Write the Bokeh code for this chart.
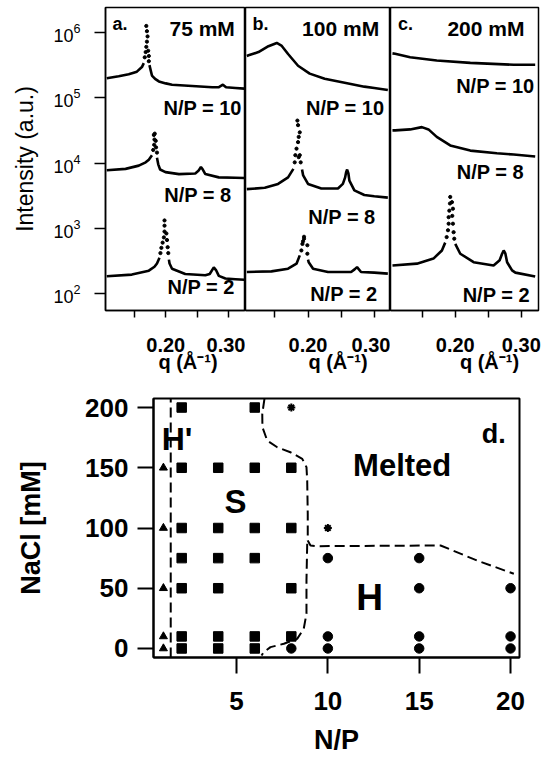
import math
from bokeh.plotting import figure
from bokeh.layouts import column, row
from bokeh.models import Range1d, FixedTicker, Label
from bokeh.embed import file_html
from bokeh.resources import INLINE

nan = float("nan")
FONT = "Liberation Sans"

# ---------------- SAXS data (q in 1/A, log10 intensity) ----------
# panel a, 75 mM
a10_line_q = [0.106, 0.125, 0.141, 0.154, 0.162, 0.165, nan, 0.174, 0.176, 0.178, 0.183, 0.189, 0.200, 0.210, 0.242, 0.274, 0.284, 0.291, 0.296, 0.311, 0.325]
a10_line_L = [5.30, 5.33, 5.36, 5.40, 5.47, 5.53, nan, 5.50, 5.42, 5.34, 5.29, 5.25, 5.22, 5.20, 5.18, 5.16, 5.16, 5.20, 5.16, 5.15, 5.14]
a10_dot_q = [0.1665, 0.168, 0.169, 0.170, 0.171, 0.170, 0.169, 0.172, 0.173, 0.173]
a10_dot_L = [5.62, 5.70, 5.78, 5.86, 5.94, 6.02, 6.10, 5.72, 5.64, 5.56]

a8_line_q = [0.106, 0.136, 0.157, 0.168, 0.173, 0.178, nan, 0.186, 0.188, 0.191, 0.1995, 0.221, 0.247, 0.252, 0.256, 0.259, 0.263, 0.2845, 0.311, 0.325]
a8_line_L = [3.89, 3.91, 3.96, 4.01, 4.05, 4.12, nan, 4.08, 3.98, 3.90, 3.86, 3.83, 3.84, 3.88, 3.94, 3.90, 3.83, 3.78, 3.775, 3.77]
a8_dot_q = [0.180, 0.1815, 0.182, 0.181, 0.1825, 0.184, 0.1845, 0.186]
a8_dot_L = [4.20, 4.28, 4.36, 4.43, 4.45, 4.34, 4.24, 4.16]

a2_line_q = [0.106, 0.146, 0.173, 0.182, 0.186, 0.190, nan, 0.205, 0.206, 0.210, 0.231, 0.263, 0.270, 0.2765, 0.280, 0.2845, 0.295, 0.311, 0.325]
a2_line_L = [2.265, 2.29, 2.35, 2.41, 2.46, 2.55, nan, 2.52, 2.46, 2.38, 2.30, 2.28, 2.30, 2.40, 2.36, 2.27, 2.23, 2.22, 2.21]
a2_dot_q = [0.1915, 0.193, 0.195, 0.197, 0.198, 0.198, 0.198, 0.201, 0.202, 0.203, 0.204]
a2_dot_L = [2.62, 2.70, 2.78, 2.86, 2.95, 3.04, 3.12, 2.92, 2.82, 2.71, 2.62]

# panel b, 100 mM
b10_line_q = [0.108, 0.1106, 0.1255, 0.1405, 0.153, 0.160, 0.170, 0.185, 0.2025, 0.225, 0.255, 0.2846, 0.2996, 0.320]
b10_line_L = [5.64, 5.65, 5.70, 5.79, 5.84, 5.80, 5.67, 5.49, 5.37, 5.29, 5.23, 5.17, 5.15, 5.12]
b10_dot_q = []
b10_dot_L = []

b8_line_q = [0.108, 0.135, 0.155, 0.170, 0.178, nan, 0.191, 0.1927, 0.200, 0.220, 0.245, 0.2524, 0.2558, 0.2573, 0.2588, 0.2607, 0.2622, 0.2697, 0.2846, 0.2996, 0.320]
b8_line_L = [3.60, 3.62, 3.68, 3.78, 3.91, nan, 3.90, 3.81, 3.68, 3.61, 3.61, 3.68, 3.78, 3.86, 3.90, 3.84, 3.73, 3.58, 3.51, 3.49, 3.47]
b8_dot_q = [0.180, 0.181, 0.1827, 0.185, 0.1876, 0.185, 0.184, 0.1876, 0.189, 0.186, 0.186]
b8_dot_L = [4.01, 4.12, 4.22, 4.32, 4.47, 4.58, 4.65, 4.12, 4.01, 4.09, 4.40]

b2_line_q = [0.108, 0.145, 0.170, 0.1827, 0.1876, nan, 0.200, 0.201, 0.2076, 0.230, 0.2648, 0.270, 0.2737, 0.2797, 0.2996, 0.320]
b2_line_L = [2.33, 2.34, 2.38, 2.457, 2.585, nan, 2.52, 2.48, 2.38, 2.33, 2.33, 2.37, 2.405, 2.33, 2.32, 2.305]
b2_dot_q = [0.190, 0.1916, 0.194, 0.194, 0.199, 0.199, 0.1925]
b2_dot_L = [2.66, 2.76, 2.84, 2.87, 2.74, 2.61, 2.80]

# panel c, 200 mM
c10_line_q = [0.105, 0.109, 0.1317, 0.172, 0.2228, 0.2885, 0.321]
c10_line_L = [5.68, 5.674, 5.62, 5.57, 5.535, 5.505, 5.505]
c10_dot_q = []
c10_dot_L = []

c8_line_q = [0.105, 0.109, 0.1317, 0.1495, 0.1595, 0.172, 0.1924, 0.2228, 0.263, 0.2885, 0.321]
c8_line_L = [4.50, 4.50, 4.515, 4.55, 4.515, 4.40, 4.27, 4.19, 4.15, 4.13, 4.10]
c8_dot_q = []
c8_dot_L = []

c2_line_q = [0.105, 0.142, 0.167, 0.1798, 0.1848, nan, 0.200, 0.2076, 0.2278, 0.258, 0.2672, 0.2709, 0.2733, 0.2759, 0.2785, 0.286, 0.291, 0.321]
c2_line_L = [2.43, 2.458, 2.535, 2.66, 2.78, nan, 2.76, 2.61, 2.48, 2.43, 2.51, 2.61, 2.66, 2.61, 2.48, 2.355, 2.32, 2.26]
c2_dot_q = [0.187, 0.189, 0.190, 0.190, 0.191, 0.192, 0.1924, 0.1965, 0.1965, 0.1975, 0.1985, 0.195, 0.1955]
c2_dot_L = [2.865, 2.97, 3.07, 3.17, 3.27, 3.38, 3.48, 3.30, 3.07, 2.94, 2.84, 3.40, 3.19]

# panel texts
panel_letters = ["a.", "b.", "c."]
panel_salts = ["75 mM", "100 mM", "200 mM"]
np_labels = ["N/P = 10", "N/P = 8", "N/P = 2"]
q_title = "q (Å⁻¹)"
q_ticks = [0.15, 0.20, 0.25, 0.30]
q_tick_labels = ["", "0.20", "", "0.30"]
I_ticks = [1e2, 1e3, 1e4, 1e5, 1e6]

# ---------------- phase diagram data ----------------
tri_np = [1, 1, 1, 1, 1]
tri_nacl = [150, 100, 50, 10, 0]
sq_np = [2, 2, 2, 2, 2, 2, 2, 4, 4, 4, 4, 4, 4, 6, 6, 6, 6, 6, 6, 8, 8, 8, 8]
sq_nacl = [200, 150, 100, 75, 50, 10, 0, 150, 100, 75, 50, 10, 0, 200, 150, 100, 75, 10, 0, 150, 100, 50, 10]
circ_np = [8, 10, 10, 10, 15, 15, 15, 15, 20, 20, 20]
circ_nacl = [0, 75, 10, 0, 75, 50, 10, 0, 50, 10, 0]
star_np = [8, 10]
star_nacl = [200, 100]

hp_bound_np = [1.4, 1.4]
hp_bound_nacl = [-7.5, 207.5]
upper_bound_np = [6.53, 6.41, 6.42, 6.68, 7.23, 7.95, 8.6, 8.83, 8.87, 8.9, 8.9, 9.05, 9.42, 16.17, 18.17, 20.18]
upper_bound_nacl = [207.2, 194.8, 183.7, 172.6, 167, 162.9, 157.4, 150.5, 139.4, 111.8, 89.6, 85.5, 84.9, 85.5, 73, 62]
lower_bound_np = [8.87, 8.83, 8.83, 8.68, 8.32, 7.59, 6.86, 6.49, 6.37]
lower_bound_nacl = [86.9, 56.4, 28.8, 16.3, 8.0, 3.9, 1.1, -3.1, -5.8]

# ---------------- layout constants ----------------
Y_LO, Y_HI = 10 ** 1.74, 10 ** 6.383


def saxs_panel(xr, fw, left, right, show_y, curves, letter, letter_q, salt, salt_q, np_pos, xlab_pad):
    p = figure(frame_width=fw, frame_height=303, x_range=Range1d(*xr),
               y_range=Range1d(Y_LO, Y_HI), y_axis_type="log",
               y_axis_location="left" if show_y else None,
               output_backend="svg", toolbar_location=None,
               min_border_left=left, min_border_right=right,
               min_border_top=7, min_border_bottom=70)
    p.grid.visible = False
    p.outline_line_color = "black"
    p.outline_line_width = 1.5
    p.background_fill_color = "white"
    p.border_fill_color = "white"
    for lq, lL, dq, dL in curves:
        p.line(lq, [10 ** v if v == v else nan for v in lL], line_color="black", line_width=2.6)
        if dq:
            p.scatter(dq, [10 ** v for v in dL], marker="circle", size=3.2, color="black")
    xa = p.xaxis[0]
    xa.ticker = FixedTicker(ticks=q_ticks)
    xa.major_label_overrides = {t: s for t, s in zip(q_ticks, q_tick_labels)}
    xa.minor_tick_line_color = None
    xa.major_tick_in = 0
    xa.major_tick_out = 7
    xa.major_tick_line_width = 1.5
    xa.axis_line_width = 1.5
    xa.major_label_text_font = FONT
    xa.major_label_text_font_style = "bold"
    xa.major_label_text_font_size = "20px"
    xa.major_label_text_color = "black"
    xa.major_label_standoff = 20
    xa.axis_label = xlab_pad + q_title
    xa.axis_label_text_font = FONT
    xa.axis_label_text_font_style = "bold"
    xa.axis_label_text_font_size = "20px"
    xa.axis_label_text_color = "black"
    xa.axis_label_standoff = -4
    if show_y:
        ya = p.yaxis[0]
        ya.ticker = FixedTicker(ticks=I_ticks)
        ya.minor_tick_line_color = None
        ya.major_tick_in = 0
        ya.major_tick_out = 11
        ya.major_tick_line_width = 1.5
        ya.axis_line_width = 1.5
        ya.major_label_text_font = FONT
        ya.major_label_text_font_size = "18px"
        ya.major_label_text_color = "black"
        ya.major_label_standoff = 14
        ya.axis_label = "Intensity (a.u.)"
        ya.axis_label_text_font = FONT
        ya.axis_label_text_font_style = "normal"
        ya.axis_label_text_font_size = "23px"
        ya.axis_label_text_color = "black"
        ya.axis_label_standoff = 12
    p.add_layout(Label(x=letter_q, y=10 ** 6.13, text=letter, text_align="left",
                       text_baseline="middle", text_font=FONT, text_font_style="bold",
                       text_font_size="18px", text_color="black"))
    p.add_layout(Label(x=salt_q, y=10 ** 6.06, text=salt, text_align="right",
                       text_baseline="middle", text_font=FONT, text_font_style="bold",
                       text_font_size="21px", text_color="black"))
    for txt, (qx, L) in zip(np_labels, np_pos):
        p.add_layout(Label(x=qx, y=10 ** L, text=txt, text_align="right",
                           text_baseline="middle", text_font=FONT, text_font_style="bold",
                           text_font_size="20px", text_color="black"))
    return p


EN = "\u2002"
QS = "\u2005"
pa = saxs_panel((0.104, 0.327), 140, 105, 0, True,
                [(a10_line_q, a10_line_L, a10_dot_q, a10_dot_L),
                 (a8_line_q, a8_line_L, a8_dot_q, a8_dot_L),
                 (a2_line_q, a2_line_L, a2_dot_q, a2_dot_L)],
                panel_letters[0], 0.1152, panel_salts[0], 0.310,
                [(0.3212, 4.836), (0.3048, 3.504), (0.310, 2.095)], EN * 2 + QS)
pb = saxs_panel((0.106, 0.324), 145, 0, 0, False,
                [(b10_line_q, b10_line_L, b10_dot_q, b10_dot_L),
                 (b8_line_q, b8_line_L, b8_dot_q, b8_dot_L),
                 (b2_line_q, b2_line_L, b2_dot_q, b2_dot_L)],
                panel_letters[1], 0.1164, panel_salts[1], 0.3069,
                [(0.3148, 4.847), (0.3016, 3.172), (0.3043, 2.0)], EN * 4)
pc = saxs_panel((0.102, 0.326), 148, 0, 8, False,
                [(c10_line_q, c10_line_L, c10_dot_q, c10_dot_L),
                 (c8_line_q, c8_line_L, c8_dot_q, c8_dot_L),
                 (c2_line_q, c2_line_L, c2_dot_q, c2_dot_L)],
                panel_letters[2], 0.1135, panel_salts[2], 0.3047,
                [(0.320, 5.173), (0.304, 3.861), (0.313, 1.97)], EN * 4 + QS * 2)

# ---------------- phase diagram ----------------
pd = figure(frame_width=366, frame_height=259, x_range=Range1d(0.457, 20.49),
            y_range=Range1d(-7.5, 207.5), output_backend="svg", toolbar_location=None,
            min_border_left=153, min_border_right=6, min_border_top=18, min_border_bottom=96)
pd.grid.visible = False
pd.outline_line_color = "black"
pd.outline_line_width = 2
pd.background_fill_color = "white"
pd.border_fill_color = "white"

dash = "10 5"
pd.line(hp_bound_np, hp_bound_nacl, line_dash=dash, line_width=2, line_color="black")
pd.line(upper_bound_np, upper_bound_nacl, line_dash=dash, line_width=2, line_color="black")
pd.line(lower_bound_np, lower_bound_nacl, line_dash=dash, line_width=2, line_color="black")
pd.scatter(tri_np, tri_nacl, marker="triangle", size=8, color="black")
pd.scatter(sq_np, sq_nacl, marker="square", size=9.5, color="black")
pd.scatter(circ_np, circ_nacl, marker="circle", size=9.5, color="black")
pd.scatter(star_np, star_nacl, marker="asterisk", size=8, line_width=2, color="black")

for txt, xx, yy, fs in [("H'", 1.75, 173.5, "32px"), ("S", 4.95, 122.2, "33px"),
                        ("Melted", 14.07, 151.9, "31px"), ("H", 12.29, 41.9, "37px"),
                        ("d.", 19.08, 178.2, "27px")]:
    pd.add_layout(Label(x=xx, y=yy, text=txt, text_align="center", text_baseline="middle",
                        text_font=FONT, text_font_style="bold", text_font_size=fs,
                        text_color="black"))

for ax, ticks in ((pd.xaxis[0], [5, 10, 15, 20]), (pd.yaxis[0], [0, 50, 100, 150, 200])):
    ax.ticker = FixedTicker(ticks=ticks)
    ax.minor_tick_line_color = None
    ax.major_tick_in = 0
    ax.major_tick_out = 16
    ax.major_tick_line_width = 2
    ax.axis_line_width = 2
    ax.major_label_text_font = FONT
    ax.major_label_text_font_style = "bold"
    ax.major_label_text_font_size = "26px"
    ax.major_label_text_color = "black"
    ax.major_label_standoff = 9
    ax.axis_label_text_font = FONT
    ax.axis_label_text_font_style = "bold"
    ax.axis_label_text_font_size = "27px"
    ax.axis_label_text_color = "black"
pd.xaxis[0].major_label_standoff = 18
pd.xaxis[0].axis_label = "N/P"
pd.xaxis[0].axis_label_standoff = 12
pd.yaxis[0].axis_label = "NaCl [mM]"
pd.yaxis[0].axis_label_standoff = 36

layout = column(row(pa, pb, pc, spacing=0), pd, spacing=0)
open("out.html", "w").write(file_html(layout, INLINE))
